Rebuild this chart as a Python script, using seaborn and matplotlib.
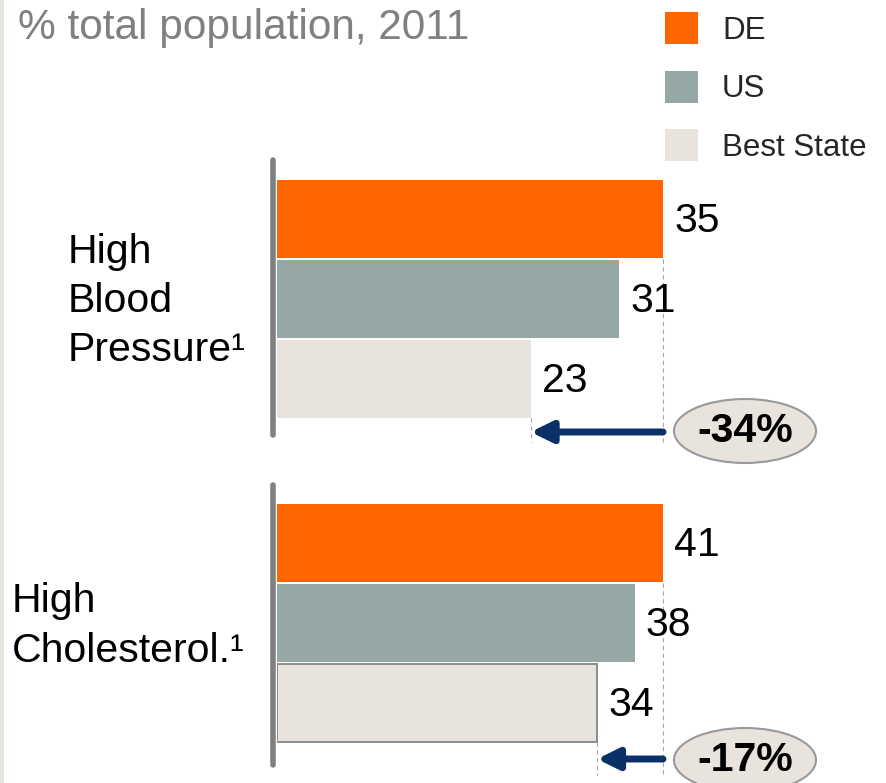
import matplotlib
matplotlib.use("Agg")
import matplotlib.pyplot as plt
from matplotlib.patches import Ellipse, Patch, Rectangle
import seaborn as sns
import pandas as pd

sns.set_theme(style="white")
plt.rcParams["font.family"] = ["Liberation Sans", "DejaVu Sans"]

# --- data -------------------------------------------------------------
regions = ["DE", "US", "Best State"]
blood_pressure = [35, 31, 23]
cholesterol = [41, 38, 34]
panel_labels = ["High\nBlood\nPressure\u00b9", "High\nCholesterol.\u00b9"]
gap_labels = ["-34%", "-17%"]
title = "% total population, 2011"

colors = {"DE": "#FF6600", "US": "#95A8A5", "Best State": "#E8E4DD"}

W, H = 886, 783
BIG = 29.5
LEG = 22.5
fig = plt.figure(figsize=(W / 100, H / 100), dpi=100)
fig.patch.set_facecolor("white")

# thin beige strip on the left edge
fig.patches.append(Rectangle((0, 0), 4 / W, 1, transform=fig.transFigure,
                             facecolor="#E8E4DD", edgecolor="none"))

bar_left = 277


def fx(px):
    return px / W


def fy(py):
    return 1 - py / H


panels = [
    dict(values=blood_pressure, top=140, bottom=470, first_center=218.5,
         axis=(160, 435), label_xy=(68, 301), arrow_y=432, dash_end=442,
         ell_y=431),
    dict(values=cholesterol, top=470, bottom=783, first_center=543,
         axis=(485, 765), label_xy=(12, 626), arrow_y=759, dash_end=775,
         ell_y=760),
]

for k, p in enumerate(panels):
    vals = p["values"]
    df = pd.DataFrame({"region": regions, "value": vals})
    ax = fig.add_axes([fx(bar_left), fy(p["bottom"]), fx(W - bar_left),
                       (p["bottom"] - p["top"]) / H])
    sns.barplot(data=df, x="value", y="region", hue="region",
                palette=colors, orient="h", width=0.975, legend=False,
                saturation=1, ax=ax, linewidth=0)
    # each panel scaled so its DE bar ends at the same place
    scale = 386 / max(vals)
    ax.set_xlim(0, (W - bar_left) / scale)
    spacing = 80.0
    ytop = -(p["first_center"] - p["top"]) / spacing
    ybot = ytop + (p["bottom"] - p["top"]) / spacing
    ax.set_ylim(ybot, ytop)
    ax.set_axis_off()

    if k == 1:
        bar = ax.patches[2]
        bar.set_edgecolor("#8C8C8C")
        bar.set_linewidth(1.4)

    def ydata(py):
        return ytop + (py - p["top"]) / spacing

    # vertical baseline
    x0 = -4 / scale
    ax.plot([x0, x0], [ydata(p["axis"][0]), ydata(p["axis"][1])],
            color="#808080", lw=4, solid_capstyle="round", clip_on=False)

    # value labels
    for i, v in enumerate(vals):
        ax.annotate(str(v), xy=(v, i), xytext=(8, -1.5),
                    textcoords="offset points", ha="left", va="center",
                    fontsize=BIG, color="black")

    # dashed guides from DE and Best State ends
    ax.plot([vals[0], vals[0]], [0.5, ydata(p["dash_end"])],
            color="#A8A8A8", lw=0.8, ls=(0, (4, 3)), clip_on=False)
    ax.plot([vals[2], vals[2]], [2.49, ydata(p["dash_end"])],
            color="#A8A8A8", lw=0.8, ls=(0, (4, 3)), clip_on=False)

    # arrow from DE down to best state
    ya = ydata(p["arrow_y"])
    ax.annotate("", xy=(vals[2], ya), xytext=(vals[0], ya),
                arrowprops=dict(arrowstyle="-|>,head_length=0.85,head_width=0.42",
                                mutation_scale=15, lw=5, color="#0B3068",
                                shrinkA=0, shrinkB=0),
                annotation_clip=False)

    # gap badge
    ell = Ellipse((fx(745), fy(p["ell_y"])), 142 / W, 64 / H,
                  transform=fig.transFigure, facecolor="#E8E4DD",
                  edgecolor="#999999", lw=1.5)
    fig.patches.append(ell)
    fig.text(fx(745), fy(p["ell_y"]), gap_labels[k], ha="center",
             va="center", fontsize=BIG, fontweight="bold", color="black")

    # panel category label
    fig.text(fx(p["label_xy"][0]), fy(p["label_xy"][1]), panel_labels[k],
             ha="left", va="center", fontsize=BIG, linespacing=1.38,
             color="black")

fig.text(fx(18), fy(28), title, ha="left", va="center", fontsize=30.5,
         color="#808080")

handles = [Patch(facecolor=colors[r], edgecolor="none", label=r) for r in regions]
fig.legend(handles=handles, loc="upper left",
           bbox_to_anchor=(fx(665), fy(12)), frameon=False, fontsize=LEG,
           handlelength=33 / 31.25, handleheight=1.2,
           handletextpad=24 / 31.25, labelspacing=0.8, borderpad=0,
           borderaxespad=0)

fig.savefig("out.png", dpi=100)
